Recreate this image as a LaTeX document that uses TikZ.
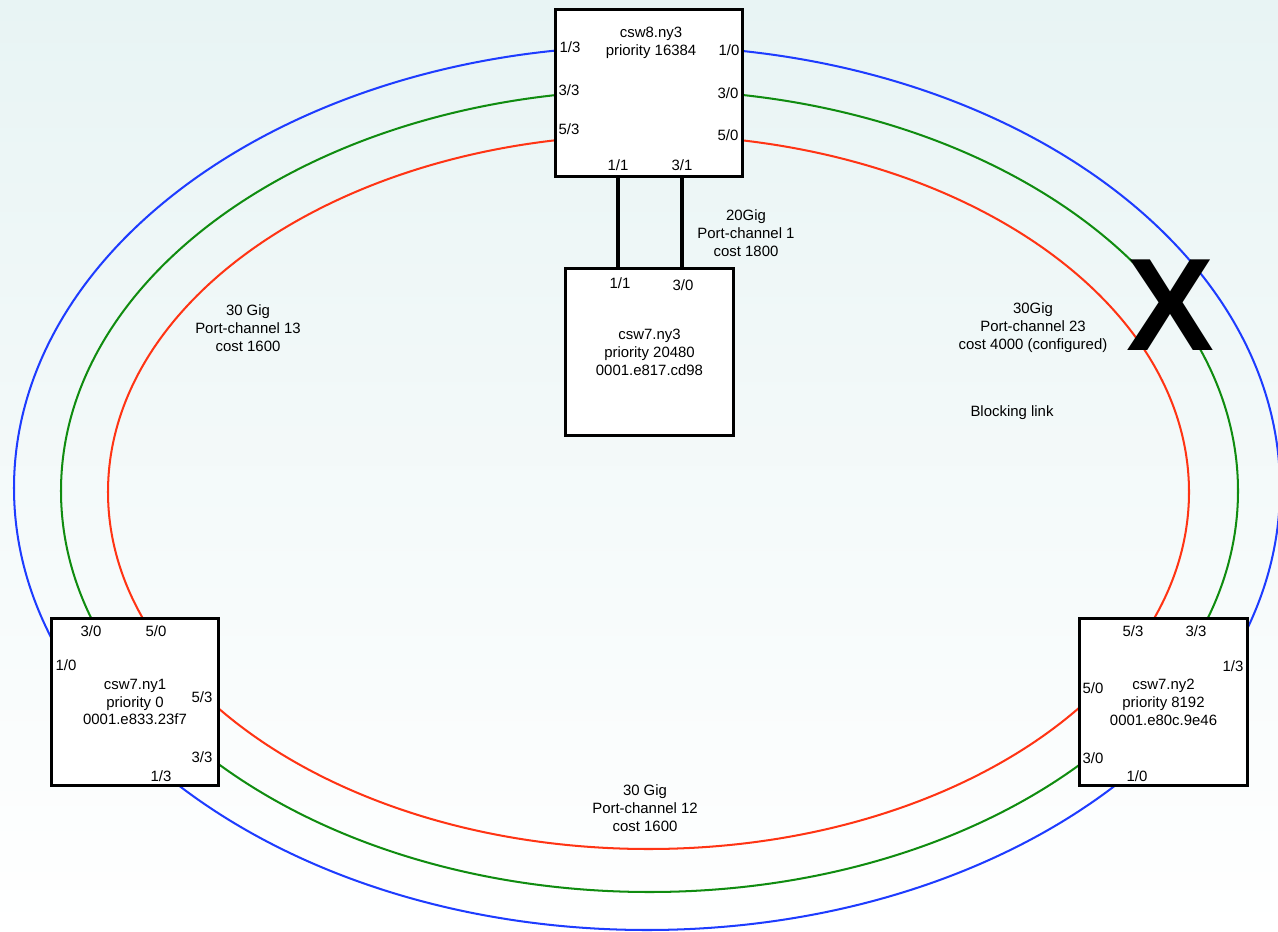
\documentclass[tikz,border=0pt]{standalone}
\usepackage{fontspec}
\setmainfont{Liberation Sans}
\usepackage{tikz}
\usetikzlibrary{positioning}
\definecolor{ringblue}{HTML}{1E3CFF}
\definecolor{ringgreen}{HTML}{108C10}
\definecolor{ringred}{HTML}{FF3414}
\definecolor{bgtop}{HTML}{E8F4F4}

\tikzset{
  switch/.style={draw, line width=1.6pt, fill=white, minimum width=3.35cm,
    minimum height=3.35cm, align=center, inner sep=0pt},
  port/.style={inner sep=0pt},
  linklabel/.style={align=center, inner sep=0pt},
  ring/.style={line width=1.15pt},
  trunk/.style={line width=1.9pt}
}

\begin{document}
\begin{tikzpicture}[x=0.02cm, y=-0.02cm, font=\fontsize{8.5}{10.2}\selectfont]
	\useasboundingbox (0,0) rectangle (1278,932);
	% background
	\shade[top color=bgtop, bottom color=white] (0,0) rectangle (1278,932);
	% the three rings
	\draw[ring, ringblue] (647,488) ellipse [x radius=633, y radius=442];
	\draw[ring, ringgreen] (649.5,491) ellipse [x radius=588.5, y radius=401];
	\draw[ring, ringred] (648.5,492) ellipse [x radius=540.5, y radius=357];
	% switches
	\node[switch, minimum width=3.75cm] (csw8) at (649,93) {};
	\node[switch] (ny3) at (649.5,352) {csw7.ny3\\priority 20480\\0001.e817.cd98};
	\node[switch] (ny1) at (135,702) {csw7.ny1\\priority 0\\0001.e833.23f7};
	\node[switch] (ny2) at (1163.5,702) {csw7.ny2\\priority 8192\\0001.e80c.9e46};
	\node[linklabel] (csw8name) at (651,43) {csw8.ny3\\priority 16384};
	% ports on csw8.ny3
	\node[port] (c8p13) at (570,47) {1/3};
	\node[port] (c8p33) at (569,90) {3/3};
	\node[port] (c8p53) at (569,129) {5/3};
	\node[port] (c8p10) at (729,50) {1/0};
	\node[port] (c8p30) at (728,93) {3/0};
	\node[port] (c8p50) at (728,135) {5/0};
	\node[port] (c8p11) at (618,165) {1/1};
	\node[port] (c8p31) at (682,165) {3/1};
	% ports on csw7.ny3
	\node[port] (n3p11) at (620,283) {1/1};
	\node[port] (n3p30) at (683,285) {3/0};
	% ports on csw7.ny1
	\node[port] (n1p30) at (91,631) {3/0};
	\node[port] (n1p50) at (156,631) {5/0};
	\node[port] (n1p10) at (66,665) {1/0};
	\node[port] (n1p53) at (202,697) {5/3};
	\node[port] (n1p33) at (202,757) {3/3};
	\node[port] (n1p13) at (161,776) {1/3};
	% ports on csw7.ny2
	\node[port] (n2p53) at (1133,631) {5/3};
	\node[port] (n2p33) at (1196,631) {3/3};
	\node[port] (n2p13) at (1233,666) {1/3};
	\node[port] (n2p50) at (1093,688) {5/0};
	\node[port] (n2p30) at (1093,758) {3/0};
	\node[port] (n2p10) at (1137,776) {1/0};
	% port-channel 1
	\draw[trunk] (csw8.south -| c8p11) -- (ny3.north -| c8p11);
	\draw[trunk] (csw8.south -| c8p31) -- (ny3.north -| c8p31);
	% link labels
	\node[linklabel] (pc1) at (746,233) {20Gig\\Port-channel 1\\cost 1800};
	\node[linklabel] (pc13) at (248,328) {30 Gig\\Port-channel 13\\cost 1600};
	\node[linklabel] (pc23) at (1033,328) {30Gig\\Port-channel 23\\cost 4000 (configured)};
	\node[linklabel] (pc12) at (645,808) {30 Gig\\Port-channel 12\\cost 1600};
	\node[linklabel] (blocking) at (1012,413) {Blocking link};
	\node[port, font=\fontsize{75}{75}\selectfont\bfseries] (cross) at (1170,305) {X};
\end{tikzpicture}
\end{document}
